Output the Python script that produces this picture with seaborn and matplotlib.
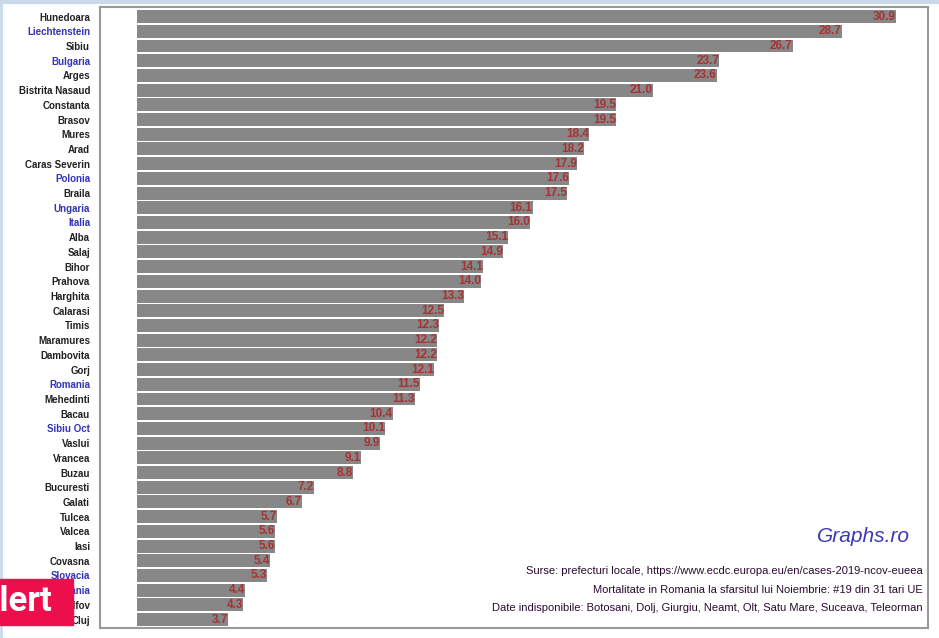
import matplotlib
matplotlib.use("Agg")
import matplotlib.pyplot as plt
import matplotlib.patches as mpatches
from matplotlib.lines import Line2D
import seaborn as sns
import pandas as pd

# Mortality values, top to bottom as in the chart
judete = ["Hunedoara", "Liechtenstein", "Sibiu", "Bulgaria", "Arges", "Bistrita Nasaud",
          "Constanta", "Brasov", "Mures", "Arad", "Caras Severin", "Polonia", "Braila",
          "Ungaria", "Italia", "Alba", "Salaj", "Bihor", "Prahova", "Harghita", "Calarasi",
          "Timis", "Maramures", "Dambovita", "Gorj", "Romania", "Mehedinti", "Bacau",
          "Sibiu Oct", "Vaslui", "Vrancea", "Buzau", "Bucuresti", "Galati", "Tulcea",
          "Valcea", "Iasi", "Covasna", "Slovacia", "Germania", "Ilfov", "Cluj"]
valori = [30.9, 28.7, 26.7, 23.7, 23.6, 21.0, 19.5, 19.5, 18.4, 18.2, 17.9, 17.6, 17.5,
          16.1, 16.0, 15.1, 14.9, 14.1, 14.0, 13.3, 12.5, 12.3, 12.2, 12.2, 12.1, 11.5,
          11.3, 10.4, 10.1, 9.9, 9.1, 8.8, 7.2, 6.7, 5.7, 5.6, 5.6, 5.4, 5.3, 4.4, 4.3, 3.7]
# labels shown in blue (countries / reference)
tari = ["Liechtenstein", "Bulgaria", "Polonia", "Ungaria", "Italia", "Romania",
        "Sibiu Oct", "Slovacia", "Germania"]

note = ["Surse: prefecturi locale, https://www.ecdc.europa.eu/en/cases-2019-ncov-eueea",
        "Mortalitate in Romania la sfarsitul lui Noiembrie: #19 din 31 tari UE",
        "Date indisponibile: Botosani, Dolj, Giurgiu, Neamt, Olt, Satu Mare, Suceava, Teleorman"]

df = pd.DataFrame({"Judet": judete, "Valoare": valori})

sns.set_style("white")
plt.rcParams["font.family"] = ["Liberation Sans", "DejaVu Sans"]

fig = plt.figure(figsize=(9.39, 6.38), dpi=100)
# light blue frame of the screenshot (top and left only)
fig.add_artist(Line2D([0, 1], [0.997, 0.997], transform=fig.transFigure, color="#c9d9ea", lw=3))
fig.add_artist(Line2D([0.001, 0.001], [0, 1], transform=fig.transFigure, color="#c9d9ea", lw=2))

ax = fig.add_axes([0.107, 0.015, 0.881, 0.974])

sns.barplot(data=df, y="Judet", x="Valoare", orient="h", color="#878787",
            saturation=1, width=0.88, linewidth=0, ax=ax)

for i, v in enumerate(valori):
    ax.text(v, i, f"{v:.1f}", ha="right", va="center", fontsize=8.5,
            fontweight="bold", color="#a83232")

ax.set_xlim(-1.5, 32.2)
ax.set_ylim(len(judete) - 0.4, -0.65)
ax.set_xticks([0, 5, 10, 15, 20, 25, 30])
ax.set_xlabel("")
ax.set_ylabel("")
ax.tick_params(axis="both", length=4, width=0.8, color="#777777", labelsize=7)
ax.tick_params(axis="x", pad=3, labelcolor="#555555")
for lbl in ax.get_yticklabels():
    lbl.set_fontweight("bold")
    lbl.set_color("#3333bb" if lbl.get_text() in tari else "#222222")
for s in ax.spines.values():
    s.set_color("#999999")
    s.set_linewidth(1.5)

ax.text(0.978, 0.148, "Graphs.ro", transform=ax.transAxes, ha="right", va="center",
        fontsize=15, style="italic", color="#3a3ab8")
ys = [0.092, 0.062, 0.033]
for t, y in zip(note, ys):
    ax.text(0.994, y, t, transform=ax.transAxes, ha="right", va="center",
            fontsize=8, color="#2a0a30")

# overlay box from the source frame
fig.patches.append(mpatches.Rectangle((0, 0.0204), 0.078, 0.072, transform=fig.transFigure,
                                      color="#ec0f4c", zorder=5))
fig.text(-0.025, 0.057, "Alert", ha="left", va="center", fontsize=25, fontweight="bold",
         color="white", zorder=6, family=["Roboto", "DejaVu Sans"])

fig.savefig("out.png", dpi=100)
